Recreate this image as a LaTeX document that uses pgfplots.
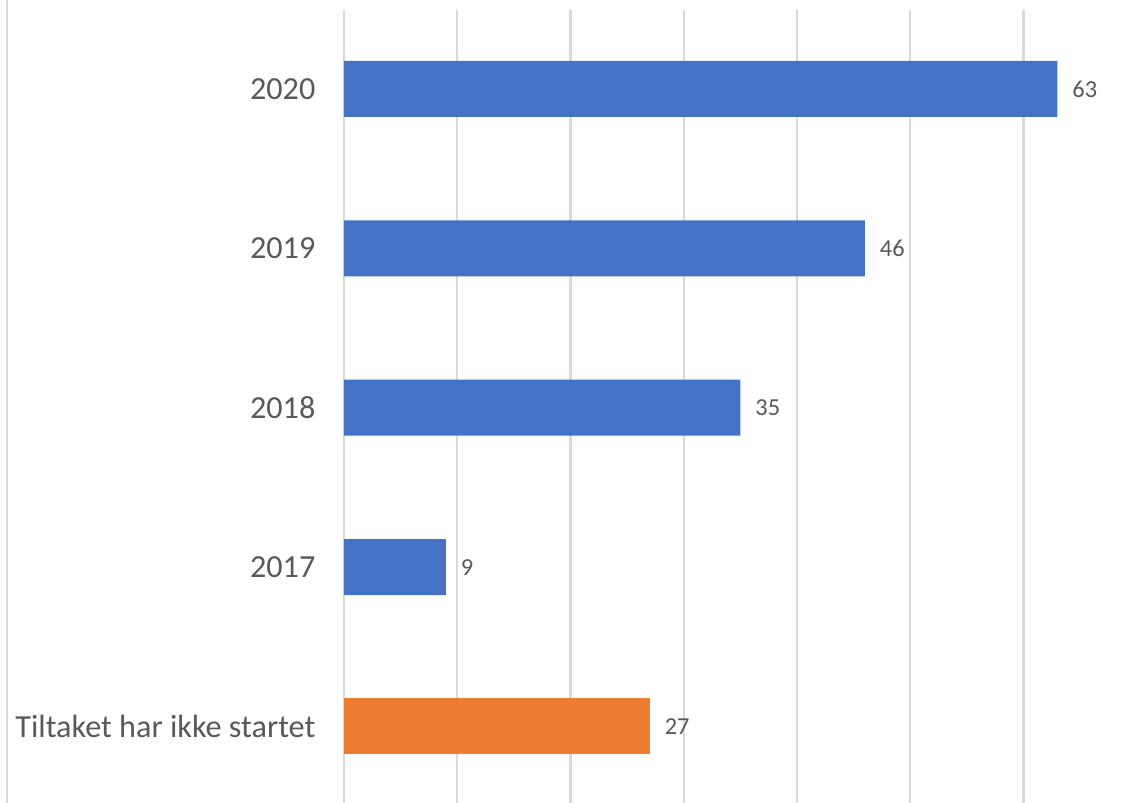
\documentclass[border=0pt]{standalone}
\usepackage{pgfplots}
\pgfplotsset{compat=1.18}
\usepackage{fontspec}
\setmainfont{Carlito}
\definecolor{barblue}{HTML}{4472C4}
\definecolor{barorange}{HTML}{ED7D31}
\definecolor{gridgray}{HTML}{D9D9D9}
\definecolor{txtgray}{HTML}{595959}
\begin{document}
\begin{tikzpicture}
\useasboundingbox (-172pt,0pt) rectangle (393.5pt,401.5pt);
\begin{axis}[
  at={(0pt,0pt)}, anchor=south west,
  scale only axis,
  width=393.5pt, height=396.5pt,
  xbar, bar width=28pt, bar shift=0pt,
  xmin=0, xmax=69.5,
  ymin=-0.48, ymax=4.495,
  xtick={0,10,...,60}, xticklabels={},
  ytick={0,1,2,3,4},
  yticklabels={Tiltaket har ikke startet,2017,2018,2019,2020},
  yticklabel style={font=\fontsize{16.1}{18}\selectfont, text=txtgray, xshift=-10.8pt},
  major tick length=0pt,
  axis line style={draw=none},
  xmajorgrids, ymajorgrids=false,
  major grid style={draw=gridgray, line width=1.2pt},
  /pgf/number format/assume math mode=true,
  nodes near coords,
  nodes near coords style={font=\fontsize{12.2}{14}\selectfont, text=txtgray, anchor=west, xshift=4pt},
  clip=false,
]
\addplot[draw=none, fill=barblue] coordinates {(9,1) (35,2) (46,3) (63,4)};
\addplot[draw=none, fill=barorange] coordinates {(27,0)};
\end{axis}
\draw[line width=1.2pt, gridgray] (-168.5pt,0pt) -- (-168.5pt,401.5pt);
\end{tikzpicture}
\end{document}
